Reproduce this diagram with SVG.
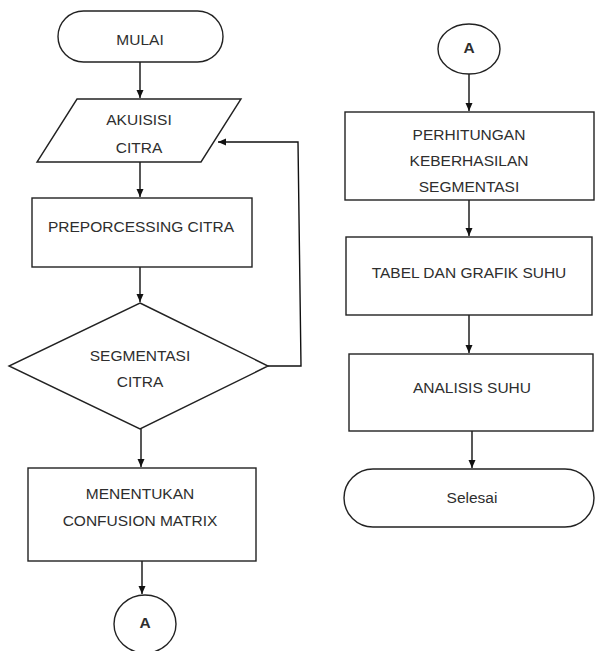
<svg xmlns="http://www.w3.org/2000/svg" width="596" height="651" viewBox="0 0 596 651">
<style>
.s{fill:#fff;stroke:#222;stroke-width:1.4}
.t{font-family:"Liberation Sans",Arial,sans-serif;font-size:15.5px;fill:#2e2e2e;text-anchor:middle;dominant-baseline:central}
.tb{font-weight:bold}
.c{fill:none;stroke:#111;stroke-width:1.4}
</style>
<defs>
<marker id="ah" viewBox="0 0 8 8" refX="8" refY="4" markerWidth="8" markerHeight="8" markerUnits="userSpaceOnUse" orient="auto">
<path d="M0,0.5 L8,4 L0,7.5 z" fill="#111"/>
</marker>
</defs>
<rect width="596" height="651" fill="#fff"/>
<g id="connectors">
<line class="c" x1="140" y1="62" x2="140" y2="98" marker-end="url(#ah)"/>
<line class="c" x1="140" y1="162" x2="140" y2="197" marker-end="url(#ah)"/>
<line class="c" x1="140" y1="267" x2="140" y2="302" marker-end="url(#ah)"/>
<polyline class="c" points="268,366 301,366 298,142 218,142" marker-end="url(#ah)"/>
<line class="c" x1="141" y1="429" x2="141" y2="467" marker-end="url(#ah)"/>
<line class="c" x1="142" y1="561" x2="142" y2="594" marker-end="url(#ah)"/>
<line class="c" x1="469" y1="74" x2="469" y2="111" marker-end="url(#ah)"/>
<line class="c" x1="469" y1="200" x2="469" y2="236" marker-end="url(#ah)"/>
<line class="c" x1="469" y1="315" x2="469" y2="353" marker-end="url(#ah)"/>
<line class="c" x1="472" y1="431" x2="472" y2="468" marker-end="url(#ah)"/>
</g>
<g id="mulai">
<rect class="s" x="58" y="11" width="165" height="51" rx="25.5"/>
<text class="t" x="140" y="39">MULAI</text>
</g>
<g id="akuisisi">
<polygon class="s" points="77,99 241,99 201,162 37,162"/>
<text class="t" x="139" y="119">AKUISISI</text>
<text class="t" x="139" y="147">CITRA</text>
</g>
<g id="preprocessing">
<rect class="s" x="32" y="198" width="220" height="69"/>
<text class="t" x="141" y="226">PREPORCESSING CITRA</text>
</g>
<g id="segmentasi">
<polygon class="s" points="140,303 268,366 140,429 9,366"/>
<text class="t" x="140" y="355">SEGMENTASI</text>
<text class="t" x="140" y="381">CITRA</text>
</g>
<g id="confusion">
<rect class="s" x="28" y="468" width="228" height="93"/>
<text class="t" x="140" y="493">MENENTUKAN</text>
<text class="t" x="140" y="520">CONFUSION MATRIX</text>
</g>
<g id="connA1">
<ellipse class="s" cx="145" cy="624" rx="31" ry="29"/>
<text class="t tb" x="145" y="622">A</text>
</g>
<g id="connA2">
<ellipse class="s" cx="469" cy="49" rx="31" ry="25"/>
<text class="t tb" x="469" y="47">A</text>
</g>
<g id="perhitungan">
<rect class="s" x="345" y="112" width="249" height="88"/>
<text class="t" x="469" y="134">PERHITUNGAN</text>
<text class="t" x="469" y="160">KEBERHASILAN</text>
<text class="t" x="469" y="186">SEGMENTASI</text>
</g>
<g id="tabel">
<rect class="s" x="346" y="237" width="246" height="78"/>
<text class="t" x="469" y="272">TABEL DAN GRAFIK SUHU</text>
</g>
<g id="analisis">
<rect class="s" x="349" y="354" width="244" height="77"/>
<text class="t" x="472" y="387">ANALISIS SUHU</text>
</g>
<g id="selesai">
<rect class="s" x="344" y="469" width="250" height="58" rx="29"/>
<text class="t" x="472" y="497">Selesai</text>
</g>
</svg>
